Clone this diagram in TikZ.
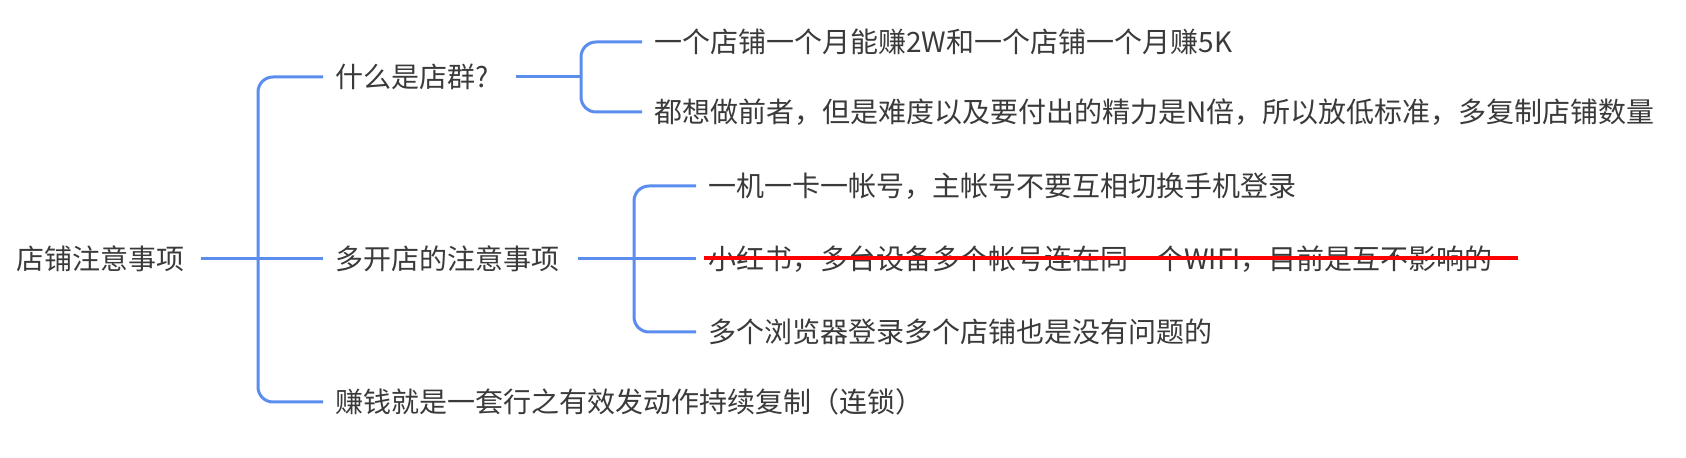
\documentclass[tikz,border=0pt]{standalone}
\usepackage{fontspec}
\setmainfont{Noto Sans CJK SC}
\definecolor{brblue}{HTML}{5B8DEF}
\definecolor{textgray}{HTML}{3A3A3A}
\definecolor{strikered}{HTML}{FF0000}
\begin{document}
\begin{tikzpicture}[x=0.5pt,y=-0.5pt,
  txt/.style={anchor=west, inner xsep=6pt, inner ysep=2pt, text=textgray,
    font=\fontsize{14}{16}\selectfont},
  br/.style={draw=brblue, line width=1.5pt, rounded corners=7.5pt},
  strike/.style={draw=strikered, line width=2pt}]
\useasboundingbox[fill=white] (0,0) rectangle (1686,458);
% nodes
\node[txt] (root) at (4,259) {店铺注意事项};
\node[txt] (n1) at (323,77) {什么是店群?};
\node[txt] (n2) at (323,259) {多开店的注意事项};
\node[txt] (n3) at (323,402) {赚钱就是一套行之有效发动作持续复制（连锁）};
\node[txt] (n11) at (642,42) {一个店铺一个月能赚2W和一个店铺一个月赚5K};
\node[txt] (n12) at (642,112) {都想做前者，但是难度以及要付出的精力是N倍，所以放低标准，多复制店铺数量};
\node[txt] (m1) at (696,186) {一机一卡一帐号，主帐号不要互相切换手机登录};
\node[txt] (m2) at (696,259) {小红书，多台设备多个帐号连在同一个WIFI，目前是互不影响的};
\node[txt] (m3) at (696,332) {多个浏览器登录多个店铺也是没有问题的};
% junctions
\coordinate (c0) at (258,259);
\coordinate (c1) at (581,77);
\coordinate (c2) at (634,259);
% main bracket
\draw[br] ([xshift=2pt]root.east) -- (c0);
\draw[br] (c0) |- (n1.west);
\draw[br] (c0) |- (n3.west);
\draw[br] (c0) -- (n2.west);
% first sub bracket
\draw[br] ([xshift=7.5pt]n1.east) -- (c1);
\draw[br] (c1) |- (n11.west);
\draw[br] (c1) |- (n12.west);
% second sub bracket
\draw[br] ([xshift=3pt]n2.east) -- (c2);
\draw[br] (c2) |- (m1.west);
\draw[br] (c2) |- (m3.west);
\draw[br] (c2) -- (m2.west);
% strike-through
\draw[strike] ([xshift=4pt,yshift=0.5pt]m2.west) -- ([xshift=411pt,yshift=0.5pt]m2.west);
\end{tikzpicture}
\end{document}
